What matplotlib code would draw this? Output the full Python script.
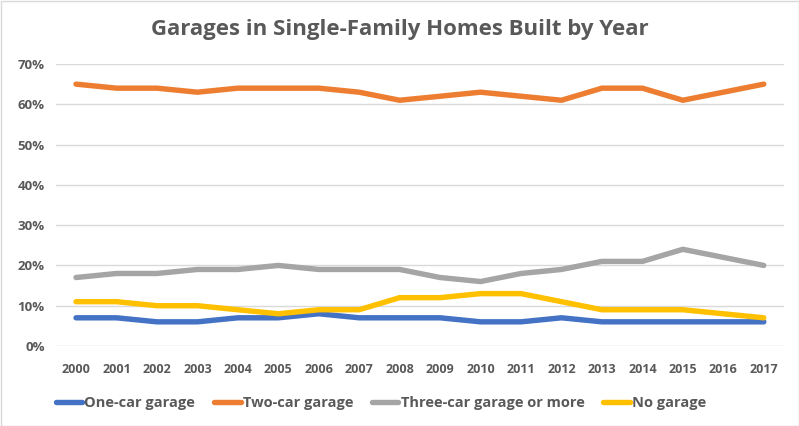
import matplotlib
matplotlib.use("Agg")
import matplotlib.pyplot as plt
from matplotlib.ticker import FuncFormatter

years = [str(y) for y in range(2000, 2018)]
one_car = [7, 7, 6, 6, 7, 7, 8, 7, 7, 7, 6, 6, 7, 6, 6, 6, 6, 6]
two_car = [65, 64, 64, 63, 64, 64, 64, 63, 61, 62, 63, 62, 61, 64, 64, 61, 63, 65]
three_car = [17, 18, 18, 19, 19, 20, 19, 19, 19, 17, 16, 18, 19, 21, 21, 24, 22, 20]
no_garage = [11, 11, 10, 10, 9, 8, 9, 9, 12, 12, 13, 13, 11, 9, 9, 9, 8, 7]
series_names = ["One-car garage", "Two-car garage", "Three-car garage or more", "No garage"]
colors = ["#4472C4", "#ED7D31", "#A5A5A5", "#FFC000"]
yticks = [0, 10, 20, 30, 40, 50, 60, 70]

plt.rcParams['font.family'] = ['Open Sans', 'DejaVu Sans']

fig = plt.figure(figsize=(7.99, 4.26), dpi=100)
ax = fig.add_axes([55.8/799, 1-346/426, (784-55.8)/799, (346-64)/426])

x = list(range(len(years)))
for vals, name, c in zip([one_car, two_car, three_car, no_garage], series_names, colors):
    ax.plot(x, vals, color=c, lw=3.9, label=name, solid_capstyle='round', solid_joinstyle='round')

ax.set_xlim(-0.5, len(years) - 0.5)
ax.set_ylim(0, 70)
ax.set_yticks(yticks)
ax.yaxis.set_major_formatter(FuncFormatter(lambda v, p: f"{int(v)}%"))
ax.set_xticks(x)
ax.set_xticklabels(years)
ax.grid(axis='y', color='#D9D9D9', lw=1)
ax.set_axisbelow(True)
for s in ax.spines.values():
    s.set_visible(False)
ax.tick_params(length=0, colors='#595959', labelsize=9.5)
ax.tick_params(axis='x', pad=12, labelsize=9)
ax.tick_params(axis='y', pad=8)
for lab in ax.get_xticklabels() + ax.get_yticklabels():
    lab.set_fontweight('bold')

fig.text(0.5, 1 - 30/426, "Garages in Single-Family Homes Built by Year", ha='center', va='center',
         fontsize=16, fontweight='bold', color='#595959')

leg = fig.legend(loc='center', bbox_to_anchor=(0.477, 1 - 403/426), ncol=4, frameon=False,
                 handlelength=1.8, handletextpad=0.15, columnspacing=1.3,
                 prop={'size': 10.5, 'weight': 'bold'})
for t in leg.get_texts():
    t.set_color('#595959')

fig.patches.append(matplotlib.patches.Rectangle((0.5/799, 0.5/426), 1 - 1/799, 1 - 1/426,
                   transform=fig.transFigure, fill=False, edgecolor='#D9D9D9', lw=1))

fig.savefig("out.png", dpi=100)
